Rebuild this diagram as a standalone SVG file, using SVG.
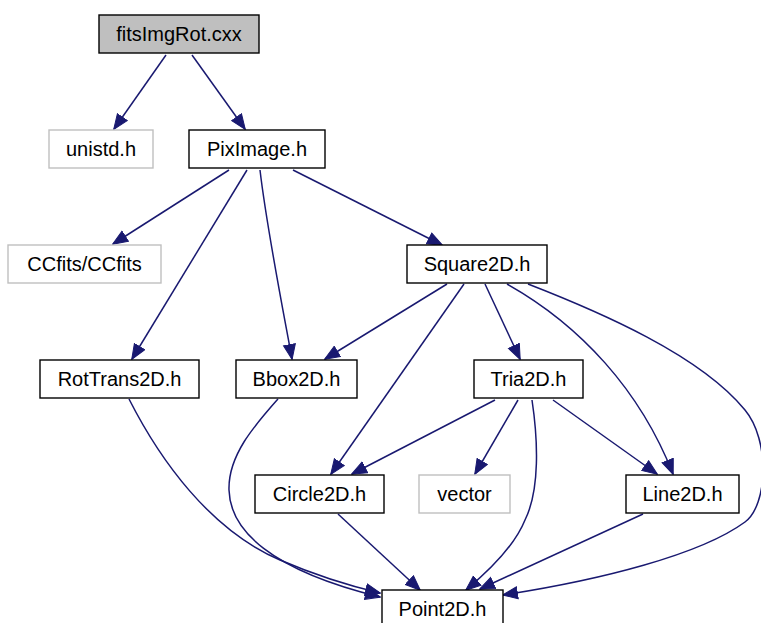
<svg xmlns="http://www.w3.org/2000/svg" width="761" height="623" viewBox="0 0 761 623">
  <style>
    .box { fill: #ffffff; stroke: #000000; stroke-width: 1.4; }
    .ext { fill: #ffffff; stroke: #bfbfbf; stroke-width: 1.4; }
    .root { fill: #bfbfbf; stroke: #000000; stroke-width: 1.4; }
    .lbl { font-family: "Liberation Sans", Arial, sans-serif; font-size: 20px; fill: #000000; text-anchor: middle; }
    .edge { fill: none; stroke: #191970; stroke-width: 1.5; marker-end: url(#arrow); }
  </style>
  <defs>
    <marker id="arrow" viewBox="0 -7 16 14" refX="15" refY="0" markerWidth="16" markerHeight="14" markerUnits="userSpaceOnUse" orient="auto">
      <path d="M0.5,-6 L15.5,0 L0.5,6 Z" fill="#191970" stroke="#191970" stroke-width="1"/>
    </marker>
  </defs>

  <!-- dependency edges -->
  <g id="edges">
    <path class="edge" d="M166,55 L114,129"/>
    <path class="edge" d="M192,55 L245,129"/>
    <path class="edge" d="M229,170 L113,244"/>
    <path class="edge" d="M247,170 L132,359"/>
    <path class="edge" d="M260,170 C267,230 285,320 292,359"/>
    <path class="edge" d="M293,170 L442,245"/>
    <path class="edge" d="M447,284 L325,359"/>
    <path class="edge" d="M464,284 L331,474"/>
    <path class="edge" d="M485,284 L520,359"/>
    <path class="edge" d="M507,284 C580,325 640,390 673,474"/>
    <path class="edge" d="M528,284 C600,312 700,355 745,410 C770,440 768,505 745,522 C700,555 600,580 503,595"/>
    <path class="edge" d="M495,400 L352,474"/>
    <path class="edge" d="M518,400 L475,474"/>
    <path class="edge" d="M532,400 C538,440 540,490 525,520 C515,545 490,570 466,590"/>
    <path class="edge" d="M553,400 L657,474"/>
    <path class="edge" d="M643,514 L480,589"/>
    <path class="edge" d="M338,514 L420,590"/>
    <path class="edge" d="M129,399 C160,460 210,530 280,560 C315,575 350,586 380,593"/>
    <path class="edge" d="M278,399 C255,425 228,455 229,490 C230,530 270,570 380,597"/>
  </g>

  <g id="node-fitsImgRot">
    <rect class="root" x="99" y="15" width="160" height="38"/>
    <text class="lbl" x="179" y="41">fitsImgRot.cxx</text>
  </g>
  <g id="node-unistd">
    <rect class="ext" x="49" y="130" width="104" height="38"/>
    <text class="lbl" x="101" y="156">unistd.h</text>
  </g>
  <g id="node-PixImage">
    <rect class="box" x="189" y="130" width="136" height="38"/>
    <text class="lbl" x="257" y="156">PixImage.h</text>
  </g>
  <g id="node-CCfits">
    <rect class="ext" x="8" y="245" width="153" height="38"/>
    <text class="lbl" x="84.5" y="271">CCfits/CCfits</text>
  </g>
  <g id="node-Square2D">
    <rect class="box" x="407" y="245" width="140" height="38"/>
    <text class="lbl" x="477" y="271">Square2D.h</text>
  </g>
  <g id="node-RotTrans2D">
    <rect class="box" x="40" y="360" width="159" height="38"/>
    <text class="lbl" x="119.5" y="386">RotTrans2D.h</text>
  </g>
  <g id="node-Bbox2D">
    <rect class="box" x="236" y="360" width="121" height="38"/>
    <text class="lbl" x="296.5" y="386">Bbox2D.h</text>
  </g>
  <g id="node-Tria2D">
    <rect class="box" x="474" y="360" width="109" height="38"/>
    <text class="lbl" x="528.5" y="386">Tria2D.h</text>
  </g>
  <g id="node-Circle2D">
    <rect class="box" x="255" y="475" width="129" height="38"/>
    <text class="lbl" x="319.5" y="501">Circle2D.h</text>
  </g>
  <g id="node-vector">
    <rect class="ext" x="419" y="475" width="91" height="38"/>
    <text class="lbl" x="464.5" y="501">vector</text>
  </g>
  <g id="node-Line2D">
    <rect class="box" x="626" y="475" width="113" height="38"/>
    <text class="lbl" x="682.5" y="501">Line2D.h</text>
  </g>
  <g id="node-Point2D">
    <rect class="box" x="382" y="590" width="121" height="38"/>
    <text class="lbl" x="442.5" y="616">Point2D.h</text>
  </g>
</svg>
